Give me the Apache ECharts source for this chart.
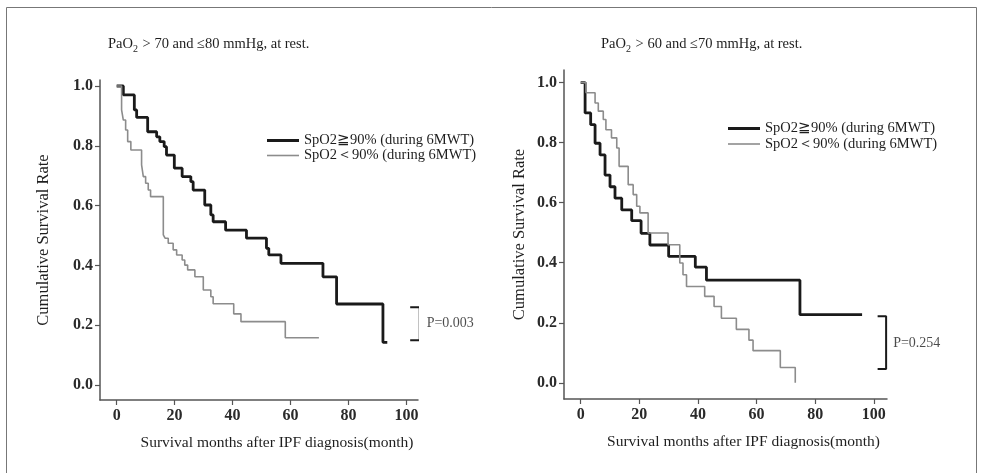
<!DOCTYPE html>
<html>
<head>
<meta charset="utf-8">
<script src="https://cdn.jsdelivr.net/npm/echarts@6/dist/echarts.min.js"></script>
<style>
  html, body { margin: 0; padding: 0; background: #fff; }
  #chart { width: 983px; height: 473px; }
</style>
</head>
<body>
<div id="chart"></div>
<script>
// 字体与颜色
const serif = '"Liberation Serif", "Times New Roman", serif'
const textColor = '#1e1e1e'
const axisColor = '#555'

// 图例名称
const nameHigh = 'SpO2≧90% (during 6MWT)'
const nameLow = 'SpO2＜90% (during 6MWT)'

// 刻度
const xTicks = [0, 20, 40, 60, 80, 100]
const yTicks = [0, 0.2, 0.4, 0.6, 0.8, 1.0]

// 左图: PaO2 > 70 and ≤80
const leftHighMonths = [0, 2.3, 6.1, 6.9, 10.7, 13.8, 14.9, 16.4, 17.2, 19.9, 22.6, 25.6, 26.4, 30.4, 32.5, 33.3, 37.6, 44.8, 51.7, 52.5, 56.7, 71.2, 75.9, 91.9, 93.4]
const leftHighSurv = [1.0, 0.97, 0.92, 0.895, 0.847, 0.83, 0.814, 0.797, 0.769, 0.725, 0.697, 0.68, 0.652, 0.602, 0.569, 0.546, 0.518, 0.491, 0.457, 0.435, 0.407, 0.362, 0.271, 0.143, 0.143]
const leftLowMonths = [0, 1.7, 2.3, 3.1, 3.8, 4.9, 8.6, 9.2, 10.0, 10.9, 11.7, 16.1, 16.7, 17.8, 19.5, 20.7, 22.6, 23.5, 24.5, 27.0, 29.9, 32.5, 33.3, 40.4, 42.9, 58.2, 69.8]
const leftLowSurv = [1.0, 0.92, 0.886, 0.853, 0.814, 0.786, 0.736, 0.697, 0.675, 0.652, 0.630, 0.502, 0.491, 0.474, 0.452, 0.435, 0.418, 0.401, 0.385, 0.362, 0.318, 0.295, 0.272, 0.238, 0.212, 0.158, 0.158]

// 右图: PaO2 > 60 and ≤70
const rightHighMonths = [0, 1.5, 3.4, 4.9, 6.6, 8.3, 10.0, 11.7, 14.0, 17.4, 20.6, 23.6, 30.0, 39.1, 42.9, 74.8, 96.0]
const rightHighSurv = [1.0, 0.899, 0.860, 0.798, 0.759, 0.692, 0.653, 0.615, 0.576, 0.540, 0.498, 0.459, 0.421, 0.385, 0.342, 0.227, 0.227]
const rightLowMonths = [0, 1.8, 4.9, 6.0, 7.7, 8.6, 10.5, 12.3, 13.1, 16.2, 17.9, 19.1, 20.2, 23.0, 29.8, 33.8, 34.9, 36.1, 42.3, 45.5, 48.0, 53.1, 57.4, 58.8, 68.1, 73.2]
const rightLowSurv = [1.0, 0.966, 0.932, 0.905, 0.877, 0.843, 0.816, 0.782, 0.721, 0.660, 0.627, 0.588, 0.566, 0.499, 0.460, 0.399, 0.360, 0.321, 0.288, 0.254, 0.215, 0.178, 0.142, 0.107, 0.051, 0.0]

// P 值括号 (月, 生存率) 与标注
const leftBracketMonths = [101.3, 104.6, 104.6, 101.3]
const leftBracketSurv = [0.26, 0.26, 0.15, 0.15]
const leftPText = 'P=0.003'
const leftPAt = [107.0, 0.207]
const rightBracketMonths = [101.3, 104.2, 104.2, 101.3]
const rightBracketSurv = [0.222, 0.222, 0.046, 0.046]
const rightPText = 'P=0.254'
const rightPAt = [106.6, 0.132]

function zip(xs, ys) {
  return xs.map((x, i) => [x, ys[i]])
}

function xAxisFor(gridIndex, min, max) {
  return {
    type: 'value',
    gridIndex,
    min,
    max,
    name: 'Survival months after IPF diagnosis(month)',
    nameLocation: 'middle',
    nameGap: 35,
    nameTextStyle: { fontFamily: serif, fontSize: 15.5, color: textColor, padding: [0, 0, 0, 36] },
    splitLine: { show: false },
    axisLine: { onZero: false, lineStyle: { color: axisColor, width: 1.5 } },
    axisTick: { customValues: xTicks, length: 5, lineStyle: { color: axisColor, width: 1.2 } },
    axisLabel: {
      customValues: xTicks,
      margin: 8,
      fontFamily: serif,
      fontSize: 16,
      fontWeight: 'bold',
      color: '#2a2a2a',
    },
  }
}

function yAxisFor(gridIndex, min, max, nameGap) {
  return {
    type: 'value',
    gridIndex,
    min,
    max,
    name: 'Cumulative Survival Rate',
    nameLocation: 'middle',
    nameGap,
    nameTextStyle: { fontFamily: serif, fontSize: 16.5, color: textColor },
    splitLine: { show: false },
    axisLine: { show: true, onZero: false, lineStyle: { color: axisColor, width: 1.5 } },
    axisTick: { show: true, customValues: yTicks, length: 5, lineStyle: { color: axisColor, width: 1.2 } },
    axisLabel: {
      customValues: yTicks,
      margin: 7,
      fontFamily: serif,
      fontSize: 16,
      fontWeight: 'bold',
      color: '#2a2a2a',
      formatter: v => v.toFixed(1),
    },
  }
}

function kmSeries(name, idx, data, color, width) {
  return {
    name,
    type: 'line',
    xAxisIndex: idx,
    yAxisIndex: idx,
    step: 'end',
    symbol: 'none',
    silent: true,
    clip: false,
    lineStyle: { color, width },
    itemStyle: { color },
    data,
  }
}

function bracketSeries(idx, data) {
  return {
    type: 'line',
    xAxisIndex: idx,
    yAxisIndex: idx,
    symbol: 'none',
    silent: true,
    clip: false,
    lineStyle: { color: '#1a1a1a', width: 2 },
    data,
  }
}

function pLabelSeries(idx, at, text) {
  return {
    type: 'scatter',
    xAxisIndex: idx,
    yAxisIndex: idx,
    symbolSize: 0,
    silent: true,
    clip: false,
    label: {
      show: true,
      position: 'right',
      distance: 0,
      formatter: text,
      fontFamily: serif,
      fontSize: 14,
      color: textColor,
    },
    data: [at],
  }
}

function titleFor(left, top, rest) {
  return {
    left,
    top,
    text: '{a|PaO}{s|2}{a|' + rest + '}',
    textStyle: {
      fontWeight: 'normal',
      rich: {
        a: { fontFamily: serif, fontSize: 14.5, fontWeight: 'normal', color: textColor },
        s: { fontFamily: serif, fontSize: 10, fontWeight: 'normal', color: textColor, padding: [9, 1, 0, 0] },
      },
    },
  }
}

// 每行一个图例, 以便黑线与灰线粗细不同
function legendRow(name, left, top, thickness) {
  return {
    left,
    top,
    icon: 'rect',
    itemWidth: 32,
    itemHeight: thickness,
    itemTextGap: 7,
    selectedMode: false,
    textStyle: { fontFamily: serif, fontSize: 14.5, color: textColor, lineHeight: 14 },
    data: [name],
  }
}

const chart = echarts.init(document.getElementById('chart'))
chart.setOption({
  backgroundColor: '#fff',
  animation: false,
  title: [
    titleFor(103, 30, ' > 70 and ≤80 mmHg, at rest.'),
    titleFor(596, 30, ' > 60 and ≤70 mmHg, at rest.'),
  ],
  legend: [
    legendRow(nameHigh, 262, 128, 3),
    legendRow(nameLow, 262, 143, 1.6),
    legendRow(nameHigh, 723, 116, 3),
    legendRow(nameLow, 723, 131.5, 1.6),
  ],
  grid: [
    { left: 100, right: 565, top: 80, bottom: 73 },
    { left: 564, right: 96, top: 70, bottom: 74 },
  ],
  xAxis: [
    xAxisFor(0, -5.75, 104),
    xAxisFor(1, -5.7, 104.5),
  ],
  yAxis: [
    yAxisFor(0, -0.05, 1.02, 48),
    yAxisFor(1, -0.054, 1.042, 36),
  ],
  graphic: [{
    type: 'polyline',
    silent: true,
    shape: { points: [[6.5, 473], [6.5, 7.5], [976.5, 7.5], [976.5, 473]] },
    style: { fill: null, stroke: '#777', lineWidth: 1 },
  }],
  series: [
    kmSeries(nameHigh, 0, zip(leftHighMonths, leftHighSurv), '#1a1a1a', 2.8),
    kmSeries(nameLow, 0, zip(leftLowMonths, leftLowSurv), '#8c8c8c', 1.6),
    bracketSeries(0, zip(leftBracketMonths, leftBracketSurv)),
    pLabelSeries(0, leftPAt, leftPText),
    kmSeries(nameHigh, 1, zip(rightHighMonths, rightHighSurv), '#1a1a1a', 2.8),
    kmSeries(nameLow, 1, zip(rightLowMonths, rightLowSurv), '#8c8c8c', 1.6),
    bracketSeries(1, zip(rightBracketMonths, rightBracketSurv)),
    pLabelSeries(1, rightPAt, rightPText),
  ],
})
</script>
</body>
</html>
